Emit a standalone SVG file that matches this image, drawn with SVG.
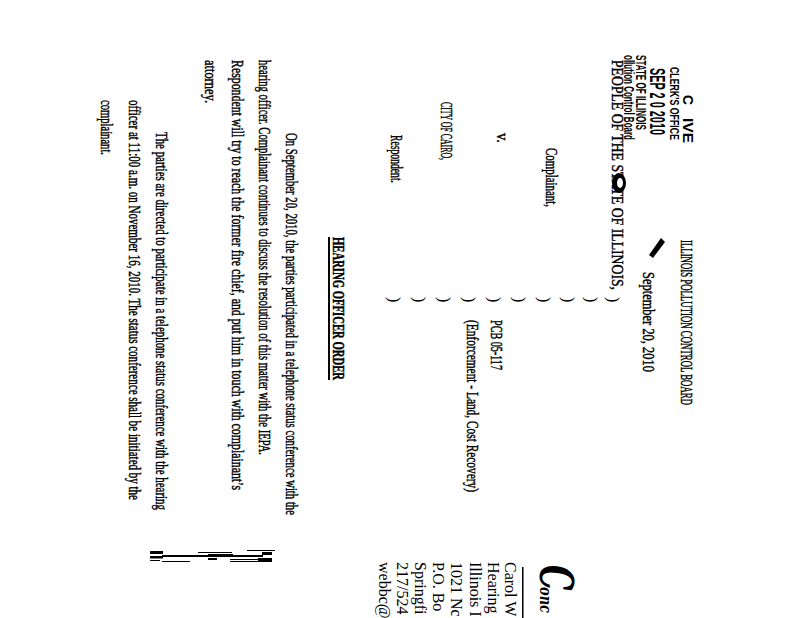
<svg xmlns="http://www.w3.org/2000/svg" width="800" height="618" viewBox="0 0 800 618">
<style>
.t{font-family:"Liberation Serif","Times New Roman",serif;font-size:9.2px;fill:#000;stroke:#000;stroke-width:0.25}
.s{font-family:"Liberation Sans",Arial,sans-serif;font-weight:bold;fill:#000}
.a{font-family:"Liberation Serif","Times New Roman",serif;font-size:16px;fill:#000}
.p{font-family:"Liberation Serif","Times New Roman",serif;font-size:16px;fill:#000}
.h{font-family:"DejaVu Serif",serif;font-style:italic;font-weight:bold;fill:#000}
.bar{fill:#000}
</style>
<rect width="800" height="618" fill="#fff"/>

<!-- stamp -->
<text class="s" font-size="15" transform="translate(683,95) rotate(90)" textLength="10" lengthAdjust="spacingAndGlyphs">C</text>
<text class="s" font-size="15" transform="translate(683,118) rotate(90)" textLength="25" lengthAdjust="spacingAndGlyphs">IVE</text>
<text class="s" font-size="12.5" transform="translate(670,67) rotate(90)" textLength="73" lengthAdjust="spacingAndGlyphs">CLERK'S OFFICE</text>
<text class="s" font-size="22" transform="translate(650,68) rotate(90)" textLength="67" lengthAdjust="spacingAndGlyphs">SEP 2 0 2010</text>
<text class="s" font-size="15" transform="translate(636,55) rotate(90)" textLength="75" lengthAdjust="spacingAndGlyphs">STATE OF ILLINOIS</text>
<text class="s" font-size="15" transform="translate(624,55) rotate(90)" textLength="85" lengthAdjust="spacingAndGlyphs">ollution Control Board</text>

<!-- heading -->
<text class="t" transform="translate(681,240) rotate(90) scale(1,1.75)" textLength="165" lengthAdjust="spacingAndGlyphs">ILLINOIS POLLUTION CONTROL BOARD</text>
<text class="t" transform="translate(643,272) rotate(90) scale(1,1.75)" textLength="100" lengthAdjust="spacingAndGlyphs">September 20, 2010</text>
<polygon points="661,238 665,242 653,258 649,255" fill="#000"/>

<!-- caption -->
<text class="t" transform="translate(612,60) rotate(90) scale(1,1.75)" textLength="230" lengthAdjust="spacingAndGlyphs">PEOPLE OF THE STATE OF ILLINOIS,</text>
<ellipse cx="619" cy="183" rx="7" ry="10" fill="#000"/>
<ellipse cx="620" cy="183" rx="3" ry="5" fill="#fff"/>
<text class="t" transform="translate(546,148) rotate(90) scale(1,1.75)" textLength="59" lengthAdjust="spacingAndGlyphs">Complainant,</text>
<text class="t" transform="translate(497,133) rotate(90) scale(1,1.75)" textLength="10" lengthAdjust="spacingAndGlyphs">v.</text>
<text class="t" transform="translate(441,102) rotate(90) scale(1,1.75)" textLength="58" lengthAdjust="spacingAndGlyphs">CITY OF CAIRO,</text>
<text class="t" transform="translate(391,135) rotate(90) scale(1,1.75)" textLength="48" lengthAdjust="spacingAndGlyphs">Respondent.</text>
<text class="t" transform="translate(491,320) rotate(90) scale(1,1.75)" textLength="50" lengthAdjust="spacingAndGlyphs">PCB 05-117</text>
<text class="t" transform="translate(467,320) rotate(90) scale(1,1.75)" textLength="172" lengthAdjust="spacingAndGlyphs">(Enforcement - Land, Cost Recovery)</text>
<g class="p">
<text transform="translate(608,297) rotate(90)">)</text>
<text transform="translate(586,297) rotate(90)">)</text>
<text transform="translate(563,297) rotate(90)">)</text>
<text transform="translate(539,297) rotate(90)">)</text>
<text transform="translate(514,297) rotate(90)">)</text>
<text transform="translate(489,297) rotate(90)">)</text>
<text transform="translate(464,297) rotate(90)">)</text>
<text transform="translate(439,297) rotate(90)">)</text>
<text transform="translate(414,297) rotate(90)">)</text>
<text transform="translate(389,297) rotate(90)">)</text>
</g>

<!-- title -->
<text class="t" font-weight="bold" transform="translate(333,237) rotate(90) scale(1,1.8)" textLength="143" lengthAdjust="spacingAndGlyphs">HEARING OFFICER ORDER</text>
<rect x="328" y="237" width="2" height="143" fill="#000"/>

<!-- body -->
<text class="t" transform="translate(286,133) rotate(90) scale(1,1.75)" textLength="382" lengthAdjust="spacingAndGlyphs">On September 20, 2010, the parties participated in a telephone status conference with the</text>
<text class="t" transform="translate(259,60) rotate(90) scale(1,1.75)" textLength="395" lengthAdjust="spacingAndGlyphs">hearing officer.  Complainant continues to discuss the resolution of this matter with the IEPA.</text>
<text class="t" transform="translate(232,60) rotate(90) scale(1,1.75)" textLength="430" lengthAdjust="spacingAndGlyphs">Respondent will try to reach the former fire chief, and put him in touch with complainant’s</text>
<text class="t" transform="translate(205,60) rotate(90) scale(1,1.75)" textLength="43" lengthAdjust="spacingAndGlyphs">attorney.</text>
<text class="t" transform="translate(156,132) rotate(90) scale(1,1.75)" textLength="378" lengthAdjust="spacingAndGlyphs">The parties are directed to participate in a telephone status conference with the hearing</text>
<text class="t" transform="translate(129,100) rotate(90) scale(1,1.75)" textLength="400" lengthAdjust="spacingAndGlyphs">officer at 11:00 a.m. on November 16, 2010.  The status conference shall be initiated by the</text>
<text class="t" transform="translate(101,100) rotate(90) scale(1,1.75)" textLength="55" lengthAdjust="spacingAndGlyphs">complainant.</text>

<!-- address block -->
<g class="a">
<text transform="translate(505,562) rotate(90)">Carol W</text>
<text transform="translate(488,562) rotate(90)">Hearing</text>
<text transform="translate(470,562) rotate(90)">Illinois I</text>
<text transform="translate(451,562) rotate(90)">1021 Nc</text>
<text transform="translate(433,562) rotate(90)">P.O. Bo</text>
<text transform="translate(415,562) rotate(90)">Springfi</text>
<text transform="translate(397,562) rotate(90)">217/524</text>
<text transform="translate(379,562) rotate(90)">webbc@</text>
</g>
<rect x="522" y="567" width="1.5" height="51" fill="#000"/>
<text class="h" font-size="46" transform="translate(540,565) rotate(90) scale(0.7,1)">C</text>
<text class="h" font-size="17" transform="translate(540,587) rotate(90)" textLength="26" lengthAdjust="spacingAndGlyphs">onc</text>

<!-- redaction marks -->
<g class="bar">
<rect x="150" y="551" width="13" height="3"/>
<rect x="150" y="556" width="13" height="2.5"/>
<rect x="150" y="560" width="10" height="1"/>
<rect x="162" y="555" width="101" height="2"/>
<rect x="198" y="552" width="34" height="1"/>
<rect x="208" y="554" width="25" height="1"/>
<rect x="247" y="550" width="28" height="1"/>
<rect x="262" y="552" width="10" height="3"/>
<rect x="162" y="561" width="28" height="1"/>
<rect x="208" y="558" width="9" height="2"/>
<rect x="230" y="559" width="30" height="1"/>
<rect x="230" y="561" width="33" height="1"/>
<rect x="258" y="558" width="14" height="4"/>
</g>
</svg>
